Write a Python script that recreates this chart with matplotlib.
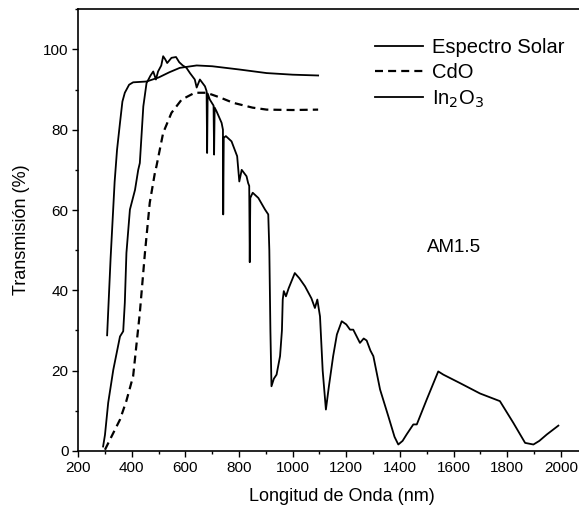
import matplotlib
matplotlib.use("Agg")
import matplotlib.pyplot as plt
from matplotlib.ticker import MultipleLocator

plt.rcParams['font.family'] = ['Liberation Sans', 'DejaVu Sans']

# --- Espectro solar AM1.5 (normalizado, %) ---
solar_nm = [293, 300, 312, 331, 356, 368, 374, 380, 393, 412, 424, 430, 443, 455,
            470, 480, 490, 498, 510, 517, 525, 532, 548, 565, 577, 590, 604, 617,
            635, 642, 654, 673, 679, 681, 683, 691, 705, 707, 709, 716, 735, 740,
            741, 743, 751, 772, 793, 801, 810, 828, 834, 838, 840, 842, 851, 872,
            897, 909, 913, 917, 921, 930, 940, 953, 960, 963, 967, 975, 985, 1008,
            1025, 1046, 1070, 1083, 1092, 1102, 1112, 1124, 1135, 1151, 1165, 1183,
            1200, 1214, 1226, 1251, 1265, 1276, 1290, 1301, 1326, 1357, 1380, 1394,
            1410, 1425, 1450, 1463, 1500, 1543, 1562, 1624, 1699, 1773, 1823, 1867,
            1898, 1920, 1948, 1991]
solar_t = [1.1, 4, 12, 20.2, 28.5, 29.8, 36.9, 49.3, 60.1, 65, 70, 71.7, 85.8, 91.6,
           93.5, 94.5, 92.5, 94.5, 96, 98.3, 97.5, 96.6, 97.9, 98.1, 96.8, 96, 95.4, 94.1,
           92.5, 90.5, 92.5, 90.8, 89.6, 74.2, 89, 87.5, 86, 73.8, 85.5, 84.6, 81.7, 80,
           58.9, 78, 78.4, 77.1, 73.4, 67.1, 70, 68.4, 66.7, 66, 47, 63, 64.3, 63,
           60.1, 58.9, 50, 30, 16.1, 18, 19, 23.6, 30, 37.7, 39.8, 38.5, 40.5, 44.3,
           43, 41, 38, 35.6, 37.7, 33.5, 20, 10.3, 16, 23.6, 29, 32.3,
           31.5, 30.2, 30.2, 26.9, 28, 27.5, 25, 23.6, 15.3, 8.6, 3.5, 1.6,
           2.5, 4.1, 6.6, 6.6, 12.8, 19.8, 19, 16.9, 14.3, 12.4, 7, 2,
           1.6, 2.5, 4.1, 6.3]

# --- CdO ---
cdo_nm = [300, 320, 356, 380, 405, 430, 449, 467, 486, 492, 517, 548, 586, 635,
          679, 730, 778, 850, 903, 1000, 1095]
cdo_t = [0.3, 3, 7.8, 12.5, 18.6, 34.4, 49.3, 61.8, 69.2, 70.9, 79.2, 84.2, 87.5, 89.2,
         89.2, 88, 86.7, 85.5, 85, 84.9, 85]

# --- In2O3 ---
in2o3_nm = [308, 321, 336, 345, 356, 365, 374, 390, 405, 455, 500, 540, 579, 642,
            700, 800, 903, 1000, 1095]
in2o3_t = [28.8, 48, 67, 75, 81.7, 87, 89.2, 91.2, 91.8, 92, 93, 94.3, 95.4, 96,
           95.8, 95, 94.1, 93.7, 93.5]

fig = plt.figure(figsize=(5.79, 5.13), dpi=100)
ax = fig.add_axes([0.135, 0.121, 0.865, 0.861])

ax.plot(solar_nm, solar_t, color='black', lw=1.3, label='Espectro Solar')
ax.plot(cdo_nm, cdo_t, color='black', lw=1.6, linestyle=(0, (3.6, 2.3)), label='CdO')
ax.plot(in2o3_nm, in2o3_t, color='black', lw=1.3, label=r'In$_2$O$_3$')

ax.set_xlim(200, 2068)
ax.set_ylim(0, 110)
ax.xaxis.set_major_locator(MultipleLocator(200))
ax.xaxis.set_minor_locator(MultipleLocator(100))
ax.yaxis.set_major_locator(MultipleLocator(20))
ax.yaxis.set_minor_locator(MultipleLocator(10))
ax.tick_params(which='major', length=4, width=1, labelsize=11, pad=3)
ax.tick_params(which='minor', length=2, width=1)
ax.spines['right'].set_visible(False)
for s in ['left', 'bottom', 'top']:
    ax.spines[s].set_linewidth(1.2)

ax.set_xlabel('Longitud de Onda (nm)', fontsize=13)
ax.set_ylabel('Transmisión (%)', fontsize=13)
ax.xaxis.set_label_coords(0.527, -0.084)
ax.yaxis.set_label_coords(-0.097, 0.5)

ax.text(1501, 50.6, 'AM1.5', fontsize=13.5, ha='left', va='center')

ax.legend(loc='upper left', bbox_to_anchor=(0.593, 0.934), frameon=False,
          fontsize=14.5, handlelength=2.4, handletextpad=0.4, labelspacing=0.3,
          borderpad=0, borderaxespad=0)

fig.savefig('out.png', dpi=100)
